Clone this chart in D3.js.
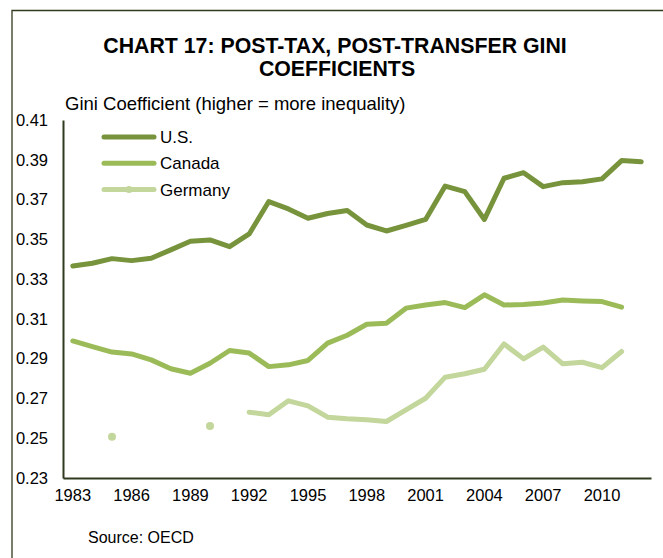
<!DOCTYPE html>
<html>
<head>
<meta charset="utf-8">
<script src="https://cdn.jsdelivr.net/npm/d3@7"></script>
<style>
  body { margin: 0; background: #fff; }
  svg { font-family: "Liberation Sans", Arial, sans-serif; }
</style>
</head>
<body>
<svg id="chart"></svg>
<script>
// years on the category axis
const years = d3.range(1983, 2013);
const yTicks = [0.23, 0.25, 0.27, 0.29, 0.31, 0.33, 0.35, 0.37, 0.39, 0.41];
const xTickYears = [1983, 1986, 1989, 1992, 1995, 1998, 2001, 2004, 2007, 2010];

const usValues = [0.3366, 0.3380, 0.3403, 0.3393, 0.3405, 0.3447, 0.3490, 0.3497, 0.3463, 0.3527,
  0.3690, 0.3653, 0.3606, 0.3630, 0.3645, 0.3572, 0.3542, 0.3570, 0.3600, 0.3768,
  0.3740, 0.3600, 0.3807, 0.3835, 0.3765, 0.3785, 0.3790, 0.3804, 0.3896, 0.3890];
const canadaValues = [0.2989, 0.2961, 0.2933, 0.2924, 0.2894, 0.2849, 0.2827, 0.2877, 0.2941, 0.2928,
  0.2860, 0.2869, 0.2891, 0.2978, 0.3018, 0.3073, 0.3078, 0.3154, 0.3170, 0.3182,
  0.3157, 0.3221, 0.3170, 0.3172, 0.3180, 0.3195, 0.3190, 0.3187, 0.3159, null];
const germanyValues = [null, null, 0.2508, null, null, null, null, 0.2562, null, 0.2631,
  0.2618, 0.2688, 0.2663, 0.2606, 0.2598, 0.2593, 0.2584, 0.2643, 0.2701, 0.2807,
  0.2824, 0.2847, 0.2974, 0.2899, 0.2958, 0.2874, 0.2882, 0.2855, 0.2936, null];

const seriesNames = ["U.S.", "Canada", "Germany"];
const seriesColors = ["#77933c", "#9bbb59", "#c3d69b"];

const W = 663, H = 558;
const svg = d3.select("#chart").attr("width", W).attr("height", H);

// outer frame
svg.append("path")
  .attr("d", `M12,${H} L12,10.5 L${W},10.5`)
  .attr("fill", "none")
  .attr("stroke", "#2f3a1e")
  .attr("stroke-width", 1.3);

// title
svg.append("text")
  .attr("x", 335).attr("y", 53)
  .attr("text-anchor", "middle")
  .style("font-weight", "bold").style("font-size", "21.3px")
  .text("CHART 17: POST-TAX, POST-TRANSFER GINI");
svg.append("text")
  .attr("x", 337).attr("y", 76)
  .attr("text-anchor", "middle")
  .style("font-weight", "bold").style("font-size", "21.3px")
  .text("COEFFICIENTS");

svg.append("text")
  .attr("x", 65).attr("y", 110)
  .style("font-size", "18.5px")
  .text("Gini Coefficient (higher = more inequality)");

const xScale = d3.scaleBand().domain(years).range([63, 651]).padding(0);
const xPos = yr => xScale(yr) + xScale.bandwidth() / 2;
const yScale = d3.scaleLinear().domain([0.23, 0.41]).range([478, 120]);

// y axis
const yAxis = d3.axisLeft(yScale).tickValues(yTicks).tickFormat(d3.format(".2f")).tickSize(0).tickPadding(15);
const yG = svg.append("g").attr("transform", "translate(63,0)").call(yAxis);
yG.select(".domain").attr("stroke", "#2f3a1e").attr("stroke-width", 2);
yG.selectAll("text").style("font-size", "16.5px").attr("fill", "#000").attr("font-family", null);

// x axis
const xAxis = d3.axisBottom(xScale).tickValues(xTickYears).tickSize(0).tickPadding(11);
const xG = svg.append("g").attr("transform", "translate(0,478)").call(xAxis);
xG.select(".domain").attr("stroke", "#2f3a1e").attr("stroke-width", 2);
xG.selectAll("text").style("font-size", "16.5px").attr("fill", "#000").attr("font-family", null);

const allSeries = [usValues, canadaValues, germanyValues];
const line = d3.line()
  .defined(d => d.v != null)
  .x(d => xPos(d.year))
  .y(d => yScale(d.v));

allSeries.forEach((vals, i) => {
  const pts = years.map((year, j) => ({ year, v: vals[j] }));
  svg.append("path")
    .datum(pts)
    .attr("d", line)
    .attr("fill", "none")
    .attr("stroke", seriesColors[i])
    .attr("stroke-width", 5)
    .attr("stroke-linejoin", "round")
    .attr("stroke-linecap", "round");
  // isolated points shown as dots
  const lone = pts.filter((d, j) => d.v != null &&
    (j === 0 || pts[j - 1].v == null) && (j === pts.length - 1 || pts[j + 1].v == null));
  svg.selectAll(null).data(lone).join("circle")
    .attr("cx", d => xPos(d.year))
    .attr("cy", d => yScale(d.v))
    .attr("r", 4)
    .attr("fill", seriesColors[i]);
});

// legend
const legend = svg.append("g");
seriesNames.forEach((name, i) => {
  const y = 137 + i * 26.3;
  legend.append("line")
    .attr("x1", 104).attr("x2", 154).attr("y1", y).attr("y2", y)
    .attr("stroke", seriesColors[i]).attr("stroke-width", 5).attr("stroke-linecap", "round");
  if (i === 2) {
    legend.append("circle").attr("cx", 129).attr("cy", y).attr("r", 3.5).attr("fill", seriesColors[i]);
  }
  legend.append("text")
    .attr("x", 160).attr("y", y + 6)
    .style("font-size", "17px")
    .text(name);
});

svg.append("text")
  .attr("x", 88).attr("y", 543)
  .style("font-size", "16px")
  .text("Source: OECD");
</script>
</body>
</html>
